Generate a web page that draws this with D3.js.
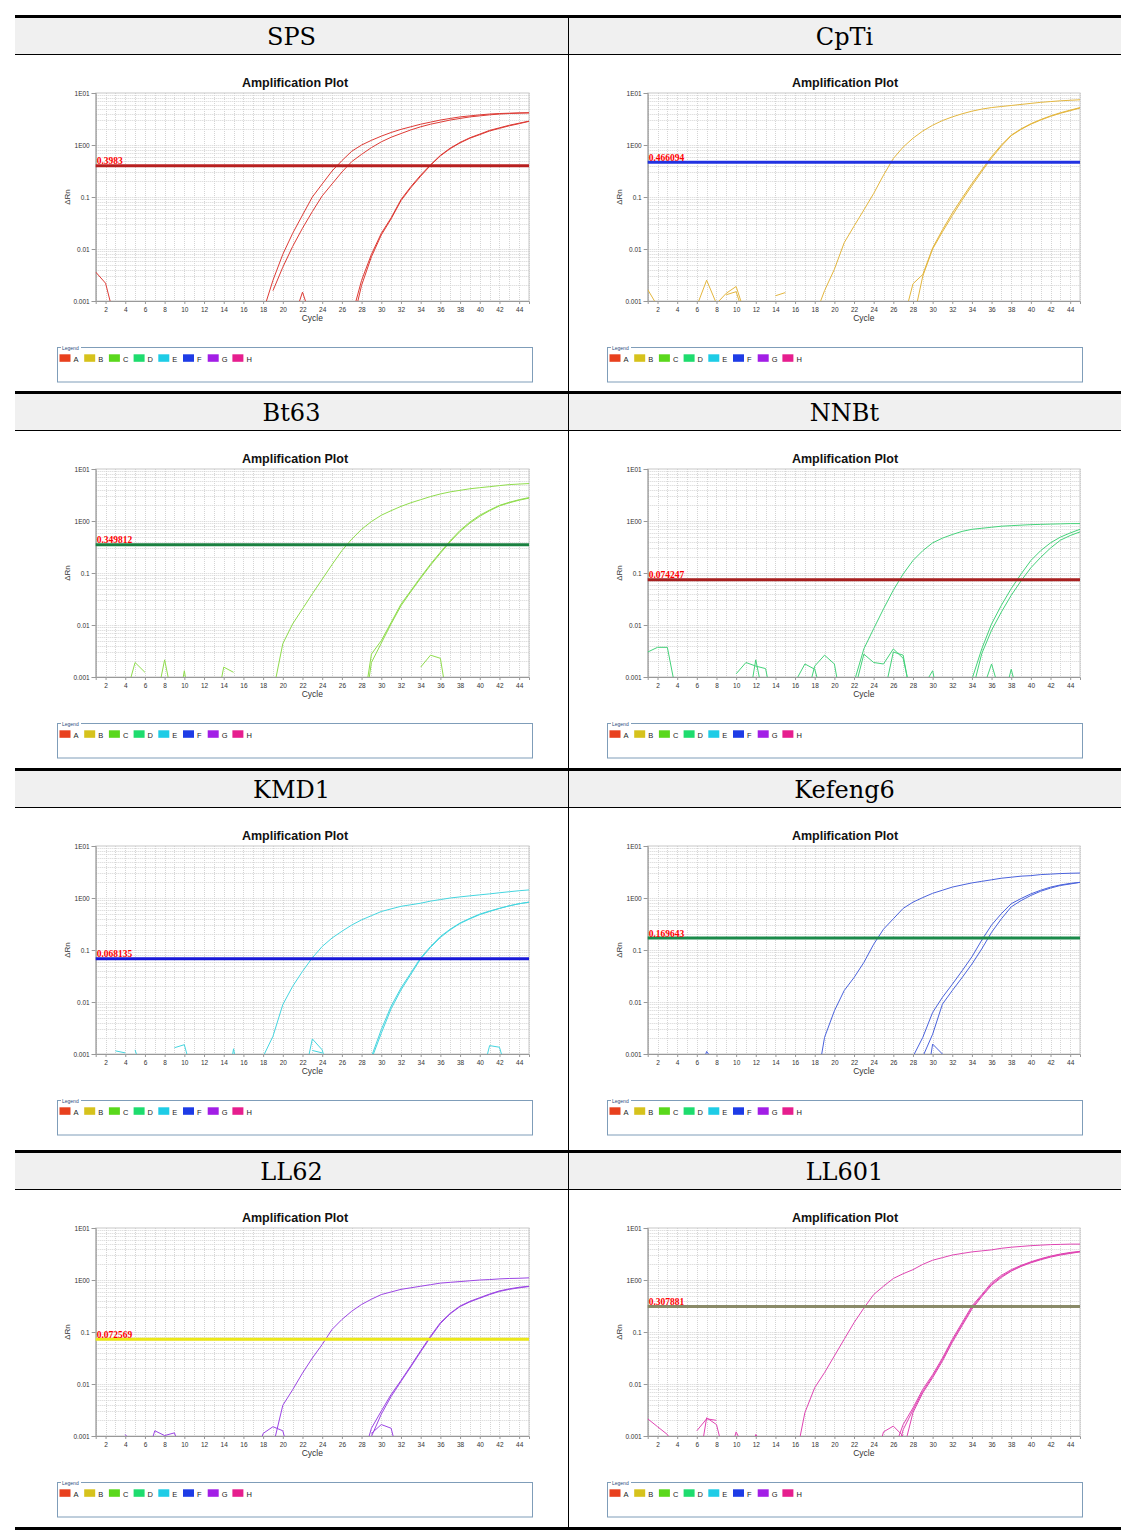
<!DOCTYPE html>
<html><head><meta charset="utf-8">
<script src="https://cdn.jsdelivr.net/npm/d3@7"></script>
<style>body{margin:0;background:#fff}</style></head>
<body><svg id="c" width="1132" height="1536"></svg>
<script>
// ---------------- data ----------------
const panelNames = ["SPS","CpTi","Bt63","NNBt","KMD1","Kefeng6","LL62","LL601"];
const thresholds = [0.3983,0.466094,0.349812,0.074247,0.068135,0.169643,0.072569,0.307881];
const xTickLabels = [2,4,6,8,10,12,14,16,18,20,22,24,26,28,30,32,34,36,38,40,42,44];
const yTickValues = [10,1,0.1,0.01,0.001];
const yTickLabels = ["1E01","1E00","0.1","0.01","0.001"];
const legendKeys = ["A","B","C","D","E","F","G","H"];
const cycleRange = [1,45];
const rnRange = [0.001,10];

// each trace: [first cycle, ΔRn values per cycle]
const spsTraces = [
 [18,[0.00063,0.0025,0.0079,0.020,0.045,0.10,0.178,0.316,0.50,0.759,1.00,1.23,1.48,1.74,2.00,2.24,2.51,2.75,3.02,3.24,3.47,3.63,3.80,3.94,4.03,4.09,4.15,4.17]],
 [19,[0.00158,0.00447,0.0112,0.0251,0.0525,0.105,0.178,0.302,0.479,0.661,0.891,1.15,1.41,1.66,1.95,2.24,2.51,2.75,3.02,3.24,3.47,3.63,3.80,3.94,4.03,4.09,4.15]],
 [27,[0.0005,0.0025,0.0079,0.020,0.0398,0.0891,0.158,0.263,0.417,0.631,0.871,1.12,1.38,1.62,1.91,2.14,2.40,2.63,2.88]],
 [27,[0.00032,0.0020,0.00708,0.0186,0.0380,0.0851,0.151,0.251,0.407,0.617,0.851,1.10,1.35,1.58,1.86,2.09,2.34,2.57,2.85]],
 [1,[0.0036,0.0022,0.0004]],
 [21,[0.0004,0.00148,0.0004]]
];
const cptiTraces = [
 [18,[0.0005,0.00158,0.00407,0.0132,0.0275,0.0562,0.117,0.263,0.550,0.912,1.35,1.86,2.40,2.95,3.47,3.98,4.47,4.90,5.25,5.50,5.75,6.03,6.31,6.61,6.84,7.08,7.24,7.41]],
 [27,[0.0004,0.00214,0.00324,0.0105,0.0234,0.0490,0.0955,0.182,0.331,0.603,1.00,1.55,2.04,2.57,3.09,3.63,4.17,4.68,5.25]],
 [28,[0.0004,0.00302,0.0100,0.0214,0.0437,0.0871,0.166,0.309,0.562,0.955,1.51,2.00,2.51,3.02,3.55,4.07,4.57,5.13]],
 [1,[0.00166,0.0008]],
 [6,[0.0008,0.00251,0.00089,0.00141,0.0019,0.0005]],
 [9,[0.00132,0.00151,0.0004]],
 [14,[0.00126,0.00145]]
];
const bt63Traces = [
 [19,[0.0005,0.00437,0.0105,0.0204,0.0398,0.0759,0.145,0.269,0.447,0.692,0.977,1.29,1.58,1.91,2.24,2.57,2.95,3.31,3.63,3.89,4.17,4.37,4.57,4.79,5.01,5.13,5.25]],
 [28,[0.00016,0.00275,0.0050,0.0112,0.0251,0.0457,0.0832,0.148,0.251,0.417,0.661,0.955,1.29,1.62,2.00,2.29,2.57,2.82]],
 [28,[0.0001,0.0019,0.00447,0.0105,0.0234,0.0437,0.0794,0.141,0.240,0.398,0.631,0.912,1.23,1.58,1.95,2.24,2.51,2.75]],
 [4,[0.0004,0.0019,0.00123]],
 [7,[0.00025,0.00214,0.00025]],
 [9,[0.0001,0.00132,0.0001]],
 [13,[0.00016,0.00155,0.00123]],
 [34,[0.00155,0.00263,0.00229,0.00016]]
];
const nnbtTraces = [
 [22,[0.00079,0.00347,0.00851,0.0204,0.0468,0.0955,0.174,0.269,0.380,0.468,0.550,0.631,0.692,0.724,0.759,0.794,0.813,0.832,0.851,0.861,0.871,0.881,0.891,0.891]],
 [34,[0.0009,0.00347,0.0105,0.0240,0.0501,0.0955,0.174,0.269,0.380,0.490,0.589,0.692]],
 [34,[0.0005,0.00282,0.00794,0.0178,0.0372,0.0708,0.126,0.200,0.302,0.427,0.525,0.617]],
 [1,[0.00302,0.00372,0.00372,0.0004]],
 [10,[0.00115,0.0019,0.00162,0.00145,0.00016]],
 [11,[0.00016,0.00214,0.00025]],
 [16,[0.0008,0.00178,0.00141,0.0003]],
 [17,[0.0003,0.00162,0.00263,0.00178,0.00016]],
 [22,[0.0005,0.00275,0.0019,0.00178,0.00347,0.00229,0.0003]],
 [25,[0.0004,0.00302,0.00263,0.00025]],
 [29,[0.00063,0.00132,0.00016]],
 [35,[0.0005,0.00178,0.0004]],
 [37,[0.00025,0.00141,0.00025]]
];
const kmd1Traces = [
 [18,[0.00089,0.00219,0.00891,0.0200,0.0389,0.0708,0.117,0.170,0.229,0.302,0.380,0.457,0.550,0.617,0.692,0.741,0.794,0.871,0.933,1.00,1.05,1.10,1.15,1.20,1.26,1.32,1.38,1.43]],
 [29,[0.00089,0.00295,0.00832,0.0186,0.0363,0.0708,0.117,0.182,0.251,0.331,0.407,0.490,0.562,0.631,0.708,0.776,0.832]],
 [29,[0.00079,0.00251,0.00741,0.0170,0.0339,0.0676,0.112,0.174,0.245,0.324,0.398,0.479,0.550,0.631,0.708,0.776,0.832]],
 [3,[0.00115,0.00105]],
 [5,[0.0012,0.0003]],
 [9,[0.00132,0.00151,0.0003]],
 [14,[0.0001,0.00126,0.0001]],
 [22,[0.00025,0.00195,0.0012,0.00025]],
 [23,[0.00117,0.00105]],
 [40,[0.00025,0.00145,0.00135,0.0003]]
];
const kefeng6Traces = [
 [18,[0.00016,0.00209,0.00676,0.0166,0.0295,0.0575,0.129,0.251,0.398,0.631,0.832,1.02,1.23,1.41,1.62,1.78,1.95,2.09,2.24,2.40,2.51,2.63,2.69,2.82,2.88,2.95,2.99,3.02]],
 [28,[0.00089,0.00209,0.00631,0.0123,0.0219,0.0398,0.0741,0.155,0.302,0.501,0.776,0.977,1.20,1.41,1.62,1.78,1.91,2.00]],
 [29,[0.00089,0.0024,0.00912,0.0166,0.0295,0.0537,0.105,0.219,0.398,0.676,0.891,1.12,1.35,1.55,1.74,1.86,2.00]],
 [6,[0.0003,0.00112,0.0006]],
 [29,[0.0001,0.00155,0.001,0.0003]]
];
const ll62Traces = [
 [19,[0.00063,0.00389,0.00776,0.0162,0.0316,0.0575,0.112,0.174,0.251,0.339,0.427,0.525,0.589,0.661,0.708,0.759,0.813,0.871,0.902,0.933,0.966,1.00,1.02,1.05,1.07,1.08,1.10]],
 [28,[0.00032,0.00141,0.00302,0.0063,0.0117,0.0224,0.0437,0.0832,0.151,0.229,0.316,0.389,0.457,0.537,0.617,0.676,0.724,0.759]],
 [28,[0.00016,0.00098,0.00263,0.00575,0.0112,0.0214,0.0417,0.0794,0.145,0.224,0.309,0.380,0.447,0.525,0.603,0.661,0.708,0.750]],
 [4,[0.00107,0.0006]],
 [6,[0.0003,0.00126,0.00102,0.00115,0.0003]],
 [17,[0.00025,0.00112,0.00151,0.00126,0.00025]],
 [29,[0.00112,0.00166,0.00141,0.00025]]
];
const ll601Traces = [
 [16,[0.00032,0.00282,0.00851,0.0166,0.0347,0.0724,0.151,0.288,0.525,0.759,1.07,1.32,1.58,2.00,2.40,2.69,3.02,3.24,3.47,3.63,3.80,4.07,4.27,4.42,4.57,4.68,4.79,4.84,4.90,4.90]],
 [26,[0.0005,0.00166,0.00347,0.00794,0.0151,0.0316,0.0724,0.151,0.316,0.525,0.891,1.23,1.58,1.91,2.24,2.57,2.88,3.16,3.39,3.55]],
 [26,[0.00025,0.00132,0.00316,0.00724,0.0141,0.0295,0.0676,0.141,0.295,0.501,0.832,1.17,1.51,1.86,2.19,2.51,2.82,3.09,3.31,3.51]],
 [27,[0.0005,0.00282,0.00676,0.0132,0.0275,0.0631,0.132,0.275,0.479,0.794,1.12,1.48,1.82,2.14,2.45,2.75,3.02,3.24,3.47]],
 [1,[0.00214,0.00151,0.00107,0.0005]],
 [6,[0.00126,0.00214,0.002]],
 [6,[0.00016,0.00224,0.00166,0.0003]],
 [9,[0.00025,0.0012,0.0005]],
 [11,[0.00025,0.00107,0.0006]],
 [24,[0.00025,0.0012,0.00155,0.001]]
];
const panelTraces = [spsTraces,cptiTraces,bt63Traces,nnbtTraces,kmd1Traces,kefeng6Traces,ll62Traces,ll601Traces];

// ---------------- styles ----------------
const curveColors = ["#dd3b35","#e3b63e","#8fdc4c","#45d27a","#45d5df","#4a62dc","#9b45e4","#df45b2"];
const thresholdColors = ["#b82020","#2232e2","#1a8040","#a82020","#1818d8","#1a8a4a","#ece818","#8a8a68"];
const legendColors = ["#e8401e","#d6c21c","#5ad81c","#1edc6e","#1ecce6","#1e3ce6","#a21ee6","#e61e8e"];

const svg = d3.select("#c");
const colLeft = [15,568], rowTop = [15,391,768,1150];
const colPlotX = [[95.7,529],[647.7,1080]];
const colLegendX = [57,607];
const tableLeft = 15, tableRight = 1121, tableBottom = 1527;

// table frame
rowTop.forEach(T => {
  svg.append("rect").attr("x",tableLeft).attr("y",T+3).attr("width",tableRight-tableLeft).attr("height",36).attr("fill","#f0f0f0");
  svg.append("rect").attr("x",tableLeft).attr("y",T).attr("width",tableRight-tableLeft).attr("height",3).attr("fill","#000");
  svg.append("line").attr("x1",tableLeft).attr("x2",tableRight).attr("y1",T+39.5).attr("y2",T+39.5).attr("stroke","#000").attr("stroke-width",1);
});
svg.append("rect").attr("x",tableLeft).attr("y",tableBottom).attr("width",tableRight-tableLeft).attr("height",3).attr("fill","#000");
svg.append("line").attr("x1",568.5).attr("x2",568.5).attr("y1",15).attr("y2",tableBottom+3).attr("stroke","#000");

panelNames.forEach((name,i) => {
  const col = i%2;
  const L = colLeft[col], T = rowTop[Math.floor(i/2)];
  const LX = colLegendX[col];
  const g = svg.append("g");
  // header
  g.append("text").attr("x",L+276.5).attr("y",T+29.5).attr("text-anchor","middle")
    .attr("font-family","DejaVu Serif").attr("font-size",24).attr("fill","#000").text(name);

  const x = d3.scaleLinear().domain(cycleRange).range(colPlotX[col]);
  const y = d3.scaleLog().domain(rnRange).range([T+286,T+78]);
  const [x0,x1] = x.range(), [y1,y0] = y.range();

  g.append("text").attr("x",LX+238).attr("y",T+72.3).attr("text-anchor","middle")
    .attr("font-family","Liberation Sans").attr("font-weight","bold").attr("font-size",12.5).attr("fill","#111").text("Amplification Plot");

  // grid
  const grid = g.append("g").attr("stroke","#d4d4d4").attr("stroke-width",1).attr("stroke-dasharray","1,1");
  d3.range(cycleRange[0],cycleRange[1]+1).forEach(c => {
    const xx = Math.round(x(c))+0.5;
    grid.append("line").attr("x1",xx).attr("x2",xx).attr("y1",y0).attr("y2",y1);
  });
  [0.001,0.01,0.1,1].forEach(d => d3.range(1,10).forEach(m => {
    const yy = Math.round(y(d*m))+0.5;
    grid.append("line").attr("x1",x0).attr("x2",x1).attr("y1",yy).attr("y2",yy);
  }));
  // frame
  g.append("rect").attr("x",x0).attr("y",y0).attr("width",x1-x0).attr("height",y1-y0)
    .attr("fill","none").attr("stroke","#c8c8c8");

  // axes
  const yAxis = d3.axisLeft(y).tickValues(yTickValues).tickFormat((d,k)=>yTickLabels[k]).tickSize(4).tickPadding(2);
  const ya = g.append("g").attr("transform",`translate(${x0},0)`).call(yAxis);
  const xAxis = d3.axisBottom(x).tickValues(xTickLabels).tickSize(3).tickPadding(3);
  const xa = g.append("g").attr("transform",`translate(0,${y1})`).call(xAxis);
  [ya,xa].forEach(a => {
    a.select(".domain").attr("stroke","#999");
    a.selectAll(".tick line").attr("stroke","#999");
    a.selectAll("text").attr("font-family","Liberation Sans").attr("font-size",6.5).attr("fill","#333");
  });

  g.append("text").attr("x",(x0+x1)/2).attr("y",T+306).attr("text-anchor","middle")
    .attr("font-family","Liberation Sans").attr("font-size",8.5).attr("fill","#333").text("Cycle");
  g.append("text").attr("transform",`translate(${x0-26},${(y0+y1)/2}) rotate(-90)`).attr("text-anchor","middle")
    .attr("font-family","Liberation Sans").attr("font-size",8).attr("fill","#333").text("ΔRn");

  // curves
  const clipId = "clip"+i;
  svg.append("clipPath").attr("id",clipId).append("rect").attr("x",x0).attr("y",y0).attr("width",x1-x0).attr("height",y1-y0);
  const line = d3.line().x(d=>x(d[0])).y(d=>y(d[1]));
  const cg = g.append("g").attr("clip-path",`url(#${clipId})`);
  panelTraces[i].forEach(([start,vals]) => {
    cg.append("path").datum(vals.map((v,k)=>[start+k,v])).attr("d",line)
      .attr("fill","none").attr("stroke",curveColors[i]).attr("stroke-width",1);
  });

  // threshold
  const ty = y(thresholds[i]);
  g.append("line").attr("x1",x0).attr("x2",x1).attr("y1",ty).attr("y2",ty)
    .attr("stroke",thresholdColors[i]).attr("stroke-width",3);
  g.append("text").attr("x",x0+1).attr("y",ty-1.5)
    .attr("font-family","Liberation Serif").attr("font-weight","bold").attr("font-size",9.5).attr("fill","#ff0000")
    .text(String(thresholds[i]));

  // legend
  const lg = g.append("g");
  lg.append("rect").attr("x",LX+0.5).attr("y",T+332.5).attr("width",475).attr("height",34.5)
    .attr("fill","none").attr("stroke","#7f9db9");
  lg.append("rect").attr("x",LX+4).attr("y",T+331).attr("width",20).attr("height",3).attr("fill","#fff");
  lg.append("text").attr("x",LX+5).attr("y",T+334.5).attr("font-family","Liberation Sans").attr("font-size",5)
    .attr("fill","#2c4c7c").text("Legend");
  legendKeys.forEach((k,j) => {
    const lx = LX+2.5+j*24.7;
    lg.append("rect").attr("x",lx).attr("y",T+339.3).attr("width",11).attr("height",7.5).attr("fill",legendColors[j]);
    lg.append("text").attr("x",lx+14).attr("y",T+346.5).attr("font-family","Liberation Sans").attr("font-size",7.5)
      .attr("fill","#222").text(k);
  });
});
</script></body></html>
